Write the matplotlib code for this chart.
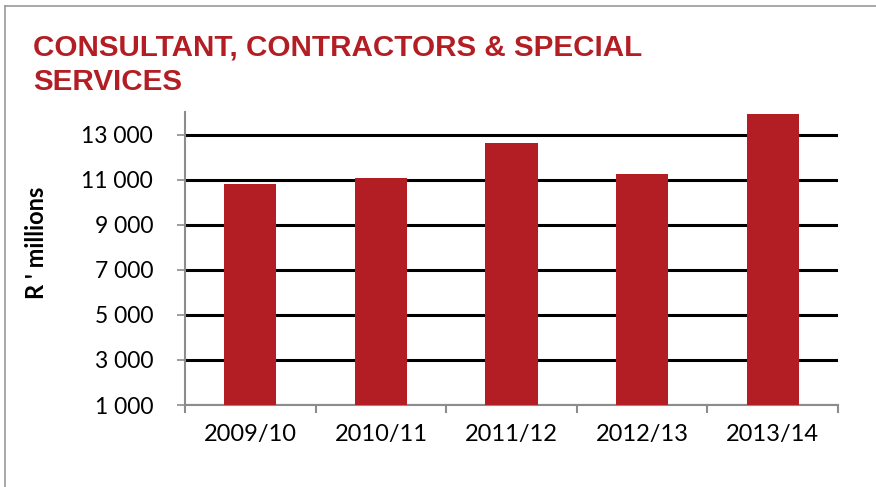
import numpy as np
import matplotlib.pyplot as plt
from matplotlib.ticker import FuncFormatter
from matplotlib.lines import Line2D

years = ['2009/10', '2010/11', '2011/12', '2012/13', '2013/14']
spend = [10820, 11090, 12640, 11270, 13890]
yticks = [1000, 3000, 5000, 7000, 9000, 11000, 13000]
title_lines = ['CONSULTANT, CONTRACTORS & SPECIAL', 'SERVICES']

red = '#B31E24'
grey = '#8C8C8C'

fig = plt.figure(figsize=(8.76, 4.87), dpi=100)
ax = fig.add_axes([185/876, 82/487, 653/876, 293/487])

x = np.arange(len(years))
ax.bar(x, spend, width=0.4, color=red, zorder=3)
ax.set_xlim(-0.5, len(years) - 0.5)
ax.set_ylim(1000, 14000)

ax.set_yticks(yticks)
ax.yaxis.set_major_formatter(FuncFormatter(lambda v, p: '{:,}'.format(int(v)).replace(',', ' ')))
for t in yticks:
    ax.axhline(t, color='black', lw=2.2, zorder=2)
ax.tick_params(axis='y', length=6, width=1.2, color=grey, labelsize=16.5, pad=17)
for lab in ax.get_yticklabels():
    lab.set_family('Lato')

ax.set_xticks(x)
ax.set_xticklabels(years, family='Lato', fontsize=17)
ax.set_xticks(np.arange(-0.5, len(years)), minor=True)
ax.tick_params(axis='x', which='major', length=0, pad=14)
ax.tick_params(axis='x', which='minor', length=6, width=1.5, color=grey)

for s in ['top', 'right']:
    ax.spines[s].set_visible(False)
for s in ['left', 'bottom']:
    ax.spines[s].set_color(grey)
    ax.spines[s].set_linewidth(1.5)

fig.text(37/876, 1 - 243/487, "R ' millions", family='Lato', fontweight='bold', fontsize=17,
         rotation=90, ha='center', va='center')

fig.text(33/876, 1 - 56/487, title_lines[0], color=red, family='Liberation Sans',
         fontweight='bold', fontsize=21.3, va='baseline', ha='left')
fig.text(33/876, 1 - 90/487, title_lines[1], color=red, family='Liberation Sans',
         fontweight='bold', fontsize=21.3, va='baseline', ha='left')

fig.add_artist(Line2D([5/876, 5/876], [0, 1 - 6/487], color='#999999', lw=1.2))
fig.add_artist(Line2D([5/876, 1], [1 - 6/487, 1 - 6/487], color='#999999', lw=1.2))

fig.savefig('out.png', dpi=100)
